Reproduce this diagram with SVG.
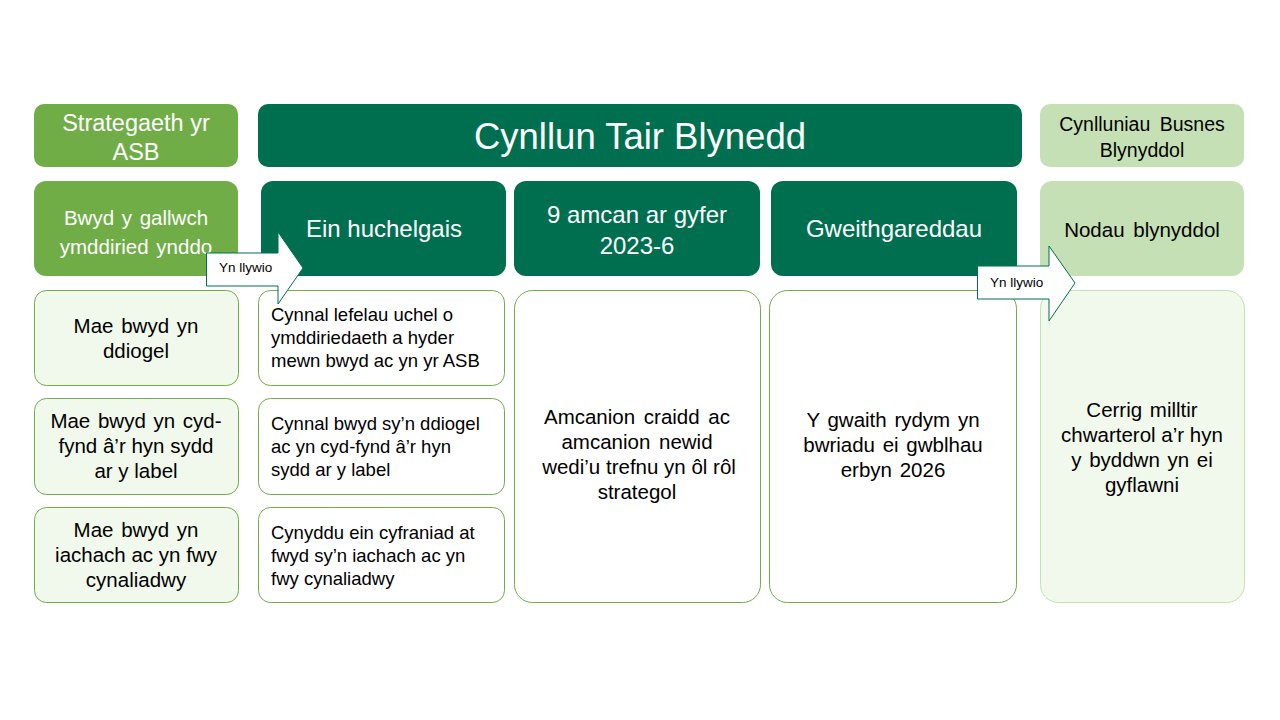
<svg xmlns="http://www.w3.org/2000/svg" width="1280" height="720" viewBox="0 0 1280 720">
<style>
text{font-family:"Liberation Sans",Arial,sans-serif;}
.w{fill:#ffffff;}
.k{fill:#000000;}
.c{text-anchor:middle;}
.dark{fill:#006F50;}
.mid{fill:#70AD47;}
.lite{fill:#C5E0B4;}
.cellA{fill:#F1F8EC;stroke:#70AD47;stroke-width:1;}
.cellB{fill:#ffffff;stroke:#70AD47;stroke-width:1;}
.cellC{fill:#F1F8EC;stroke:#C5E0B4;stroke-width:1;}
.arr{fill:#ffffff;stroke:#006F50;stroke-width:1;}
.s2{font-size:18.5px;}
.s3{font-size:20.5px;}
</style>
<rect width="1280" height="720" fill="#ffffff"/>
<g id="strategaeth">
<rect class="mid" x="34" y="104" width="204" height="63" rx="10"/>
<text class="w c" x="136" y="131" font-size="23.5">Strategaeth yr</text>
<text class="w c" x="136" y="160" font-size="23.5">ASB</text>
</g>
<g id="cynllun">
<rect class="dark" x="258" y="104" width="764" height="63" rx="10"/>
<text class="w c" x="640" y="149" font-size="36.5">Cynllun Tair Blynedd</text>
</g>
<g id="busnes">
<rect class="lite" x="1040" y="104" width="204" height="63" rx="10"/>
<text class="k c" x="1142" y="131" font-size="19.5" word-spacing="4">Cynlluniau Busnes</text>
<text class="k c" x="1142" y="157" font-size="19.5">Blynyddol</text>
</g>
<g id="bwyd">
<rect class="mid" x="34" y="181" width="204" height="95" rx="12"/>
<text class="w c" x="136" y="225" font-size="20.5" word-spacing="2">Bwyd y gallwch</text>
<text class="w c" x="136" y="254" font-size="20.5" word-spacing="2">ymddiried ynddo</text>
</g>
<g id="uchelgais">
<rect class="dark" x="261" y="181" width="245" height="95" rx="12"/>
<text class="w c" x="384" y="237" font-size="24">Ein huchelgais</text>
</g>
<g id="amcan">
<rect class="dark" x="514" y="181" width="246" height="95" rx="12"/>
<text class="w c" x="637" y="223" font-size="24">9 amcan ar gyfer</text>
<text class="w c" x="637" y="254" font-size="24">2023-6</text>
</g>
<g id="gweithgareddau">
<rect class="dark" x="771" y="181" width="246" height="95" rx="12"/>
<text class="w c" x="894" y="237" font-size="24">Gweithgareddau</text>
</g>
<g id="nodau">
<rect class="lite" x="1040" y="181" width="204" height="95" rx="12"/>
<text class="k c" x="1142" y="237" font-size="20.5" word-spacing="3">Nodau blynyddol</text>
</g>
<g id="ddiogel">
<rect class="cellA" x="34.5" y="290.5" width="204" height="95" rx="12"/>
<text class="k c s3" x="136" y="333" word-spacing="2">Mae bwyd yn</text>
<text class="k c s3" x="136" y="358">ddiogel</text>
</g>
<g id="label">
<rect class="cellA" x="34.5" y="398.5" width="204" height="96" rx="12"/>
<text class="k c s3" x="136" y="428" word-spacing="2">Mae bwyd yn cyd-</text>
<text class="k c s3" x="136" y="453">fynd â’r hyn sydd</text>
<text class="k c s3" x="136" y="478">ar y label</text>
</g>
<g id="iachach">
<rect class="cellA" x="34.5" y="507.5" width="204" height="95" rx="12"/>
<text class="k c s3" x="136" y="537" word-spacing="2">Mae bwyd yn</text>
<text class="k c s3" x="136" y="562">iachach ac yn fwy</text>
<text class="k c s3" x="136" y="587">cynaliadwy</text>
</g>
<g id="lefelau">
<rect class="cellB" x="258.5" y="290.5" width="246" height="95" rx="12"/>
<text class="k s2" x="271" y="321">Cynnal lefelau uchel o</text>
<text class="k s2" x="271" y="344">ymddiriedaeth a hyder</text>
<text class="k s2" x="271" y="367">mewn bwyd ac yn yr ASB</text>
</g>
<g id="cynnal">
<rect class="cellB" x="258.5" y="398.5" width="246" height="96" rx="12"/>
<text class="k s2" x="271" y="430">Cynnal bwyd sy’n ddiogel</text>
<text class="k s2" x="271" y="453">ac yn cyd-fynd â’r hyn</text>
<text class="k s2" x="271" y="476">sydd ar y label</text>
</g>
<g id="cynyddu">
<rect class="cellB" x="258.5" y="507.5" width="246" height="95" rx="12"/>
<text class="k s2" x="271" y="539">Cynyddu ein cyfraniad at</text>
<text class="k s2" x="271" y="562">fwyd sy’n iachach ac yn</text>
<text class="k s2" x="271" y="585">fwy cynaliadwy</text>
</g>
<g id="amcanion">
<rect class="cellB" x="514.5" y="290.5" width="246" height="312" rx="18"/>
<text class="k c s3" x="637" y="424" word-spacing="3">Amcanion craidd ac</text>
<text class="k c s3" x="637" y="449" word-spacing="3">amcanion newid</text>
<text class="k c s3" x="639" y="474">wedi’u trefnu yn ôl rôl</text>
<text class="k c s3" x="637" y="499">strategol</text>
</g>
<g id="gwaith">
<rect class="cellB" x="769.5" y="290.5" width="247" height="312" rx="18"/>
<text class="k c s3" x="893" y="427" word-spacing="2">Y gwaith rydym yn</text>
<text class="k c s3" x="893" y="452" word-spacing="2">bwriadu ei gwblhau</text>
<text class="k c s3" x="893" y="477" word-spacing="2">erbyn 2026</text>
</g>
<g id="cerrig">
<rect class="cellC" x="1040.5" y="290.5" width="204" height="312" rx="18"/>
<text class="k c s3" x="1142" y="417" word-spacing="2">Cerrig milltir</text>
<text class="k c s3" x="1142" y="442">chwarterol a’r hyn</text>
<text class="k c s3" x="1142" y="467" word-spacing="2">y byddwn yn ei</text>
<text class="k c s3" x="1142" y="492">gyflawni</text>
</g>
<g id="connectors">
<g id="arrow1">
<polygon class="arr" points="206.5,253 278,253 278,232 303,268 278,304 278,286 206.5,286"/>
<text class="k" x="219" y="272" font-size="13.5">Yn llywio</text>
</g>
<g id="arrow2">
<polygon class="arr" points="977.5,266 1049,266 1049,246 1075,283 1049,321 1049,299 977.5,299"/>
<text class="k" x="990" y="287" font-size="13.5">Yn llywio</text>
</g>
</g>
</svg>
